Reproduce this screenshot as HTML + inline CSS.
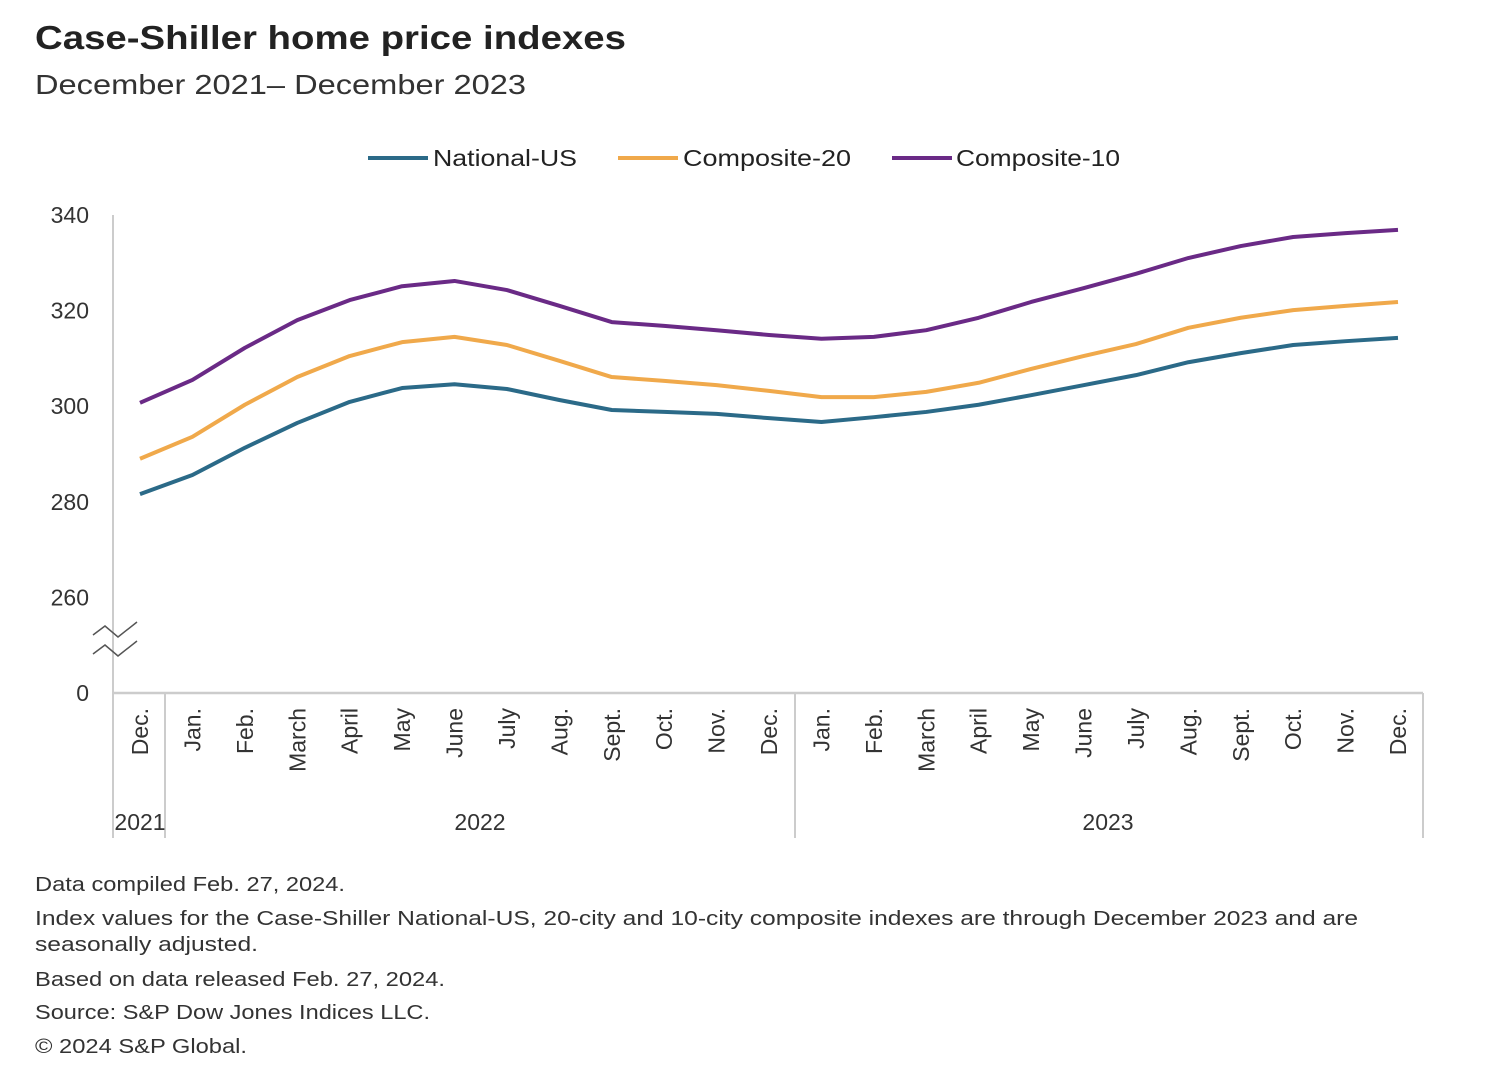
<!DOCTYPE html>
<html><head><meta charset="utf-8"><style>
body{margin:0;background:#fff;font-family:"Liberation Sans",sans-serif;color:#222}
svg text{font-family:"Liberation Sans",sans-serif}
</style></head><body>
<svg width="1488" height="1080">
<text x="35" y="49" font-size="33" font-weight="bold" fill="#222" textLength="591" lengthAdjust="spacingAndGlyphs">Case-Shiller home price indexes</text>
<text x="35" y="94" font-size="28" fill="#333" textLength="491" lengthAdjust="spacingAndGlyphs">December 2021– December 2023</text>
<g id="legend"></g>
<g id="plot"></g>
<g font-size="20" fill="#333" lengthAdjust="spacingAndGlyphs">
<text x="35" y="891" textLength="310" lengthAdjust="spacingAndGlyphs">Data compiled Feb. 27, 2024.</text>
<text x="35" y="925" textLength="1323" lengthAdjust="spacingAndGlyphs">Index values for the Case-Shiller National-US, 20-city and 10-city composite indexes are through December 2023 and are</text>
<text x="35" y="951" textLength="223" lengthAdjust="spacingAndGlyphs">seasonally adjusted.</text>
<text x="35" y="986" textLength="410" lengthAdjust="spacingAndGlyphs">Based on data released Feb. 27, 2024.</text>
<text x="35" y="1019" textLength="395" lengthAdjust="spacingAndGlyphs">Source: S&amp;P Dow Jones Indices LLC.</text>
<text x="35" y="1053" textLength="212" lengthAdjust="spacingAndGlyphs">© 2024 S&amp;P Global.</text>
</g>
</svg>
<script>
const months=["Dec.","Jan.","Feb.","March","April","May","June","July","Aug.","Sept.","Oct.","Nov.","Dec.","Jan.","Feb.","March","April","May","June","July","Aug.","Sept.","Oct.","Nov.","Dec."];
const yTicks=[340,320,300,280,260];
const national=[281.6,285.6,291.3,296.5,300.9,303.8,304.6,303.6,301.3,299.2,298.8,298.4,297.5,296.7,297.7,298.8,300.3,302.3,304.4,306.5,309.2,311.1,312.8,313.6,314.3];
const comp20=[289,293.6,300.3,306.1,310.5,313.4,314.5,312.8,309.5,306.1,305.3,304.4,303.2,301.9,301.9,303,304.9,307.8,310.5,313,316.4,318.5,320.1,321,321.8];
const comp10=[300.7,305.5,312.2,318,322.2,325.1,326.2,324.3,321,317.6,316.8,315.9,314.9,314.1,314.5,315.9,318.5,321.8,324.7,327.7,331,333.5,335.4,336.2,336.9];
const seriesNames=["National-US","Composite-20","Composite-10"];
const colors=["#2b6a88","#f0a94b","#6a2a86"];
const NS="http://www.w3.org/2000/svg";
const plot=document.getElementById('plot'),legend=document.getElementById('legend');
function mk(tag,attrs,parent){const e=document.createElementNS(NS,tag);for(const k in attrs)e.setAttribute(k,attrs[k]);parent.appendChild(e);return e;}
const x=i=>140+i*(1398-140)/(months.length-1);
const y=v=>215+(340-v)*4.78;
const AX=113,AY=693;
let l=mk('line',{x1:AX,y1:215,x2:AX,y2:838,stroke:'#ccc','stroke-width':2},plot);

l=mk('line',{x1:AX,y1:AY,x2:1423,y2:AY,stroke:'#ccc','stroke-width':2.5},plot);

[165,795,1423].forEach(sx=>{const s=mk('line',{x1:sx,y1:AY,x2:sx,y2:838,stroke:'#ccc','stroke-width':2},plot);
});
const br=mk('path',{d:'M93,635 L105,626 L118,637 L137,622 M93,654 L105,645 L118,656 L137,641',fill:'none',stroke:'#555','stroke-width':1.5},plot);

yTicks.forEach(t=>{const e=mk('text',{x:89,y:y(t)+8,'font-size':23,'text-anchor':'end',fill:'#333'},plot);e.textContent=t;
});
let z=mk('text',{x:89,y:AY+8,'font-size':23,'text-anchor':'end',fill:'#333'},plot);z.textContent='0';

months.forEach((m,i)=>{const e=mk('text',{x:0,y:0,'font-size':23,'text-anchor':'end',fill:'#333',transform:`translate(${x(i)+8},708) rotate(-90)`},plot);e.textContent=m;
});
[["2021",140],["2022",480],["2023",1108]].forEach(([t,px])=>{const e=mk('text',{x:px,y:830,'font-size':23,'text-anchor':'middle',fill:'#333'},plot);e.textContent=t;
});
[national,comp20,comp10].forEach((d,k)=>{const p=mk('polyline',{points:d.map((v,i)=>x(i)+','+y(v)).join(' '),fill:'none',stroke:colors[k],'stroke-width':4,'stroke-linejoin':'round'},plot);
});
[[368,433,144],[618,683,168],[892,956,164]].forEach(([lx,tx,tl],k)=>{const g=mk('g',{},legend);

mk('line',{x1:lx,y1:158,x2:lx+60,y2:158,stroke:colors[k],'stroke-width':4},g);
const t=mk('text',{x:tx,y:166,'font-size':23,fill:'#222',textLength:tl,lengthAdjust:'spacingAndGlyphs'},g);t.textContent=seriesNames[k];});
</script>
</body></html>
